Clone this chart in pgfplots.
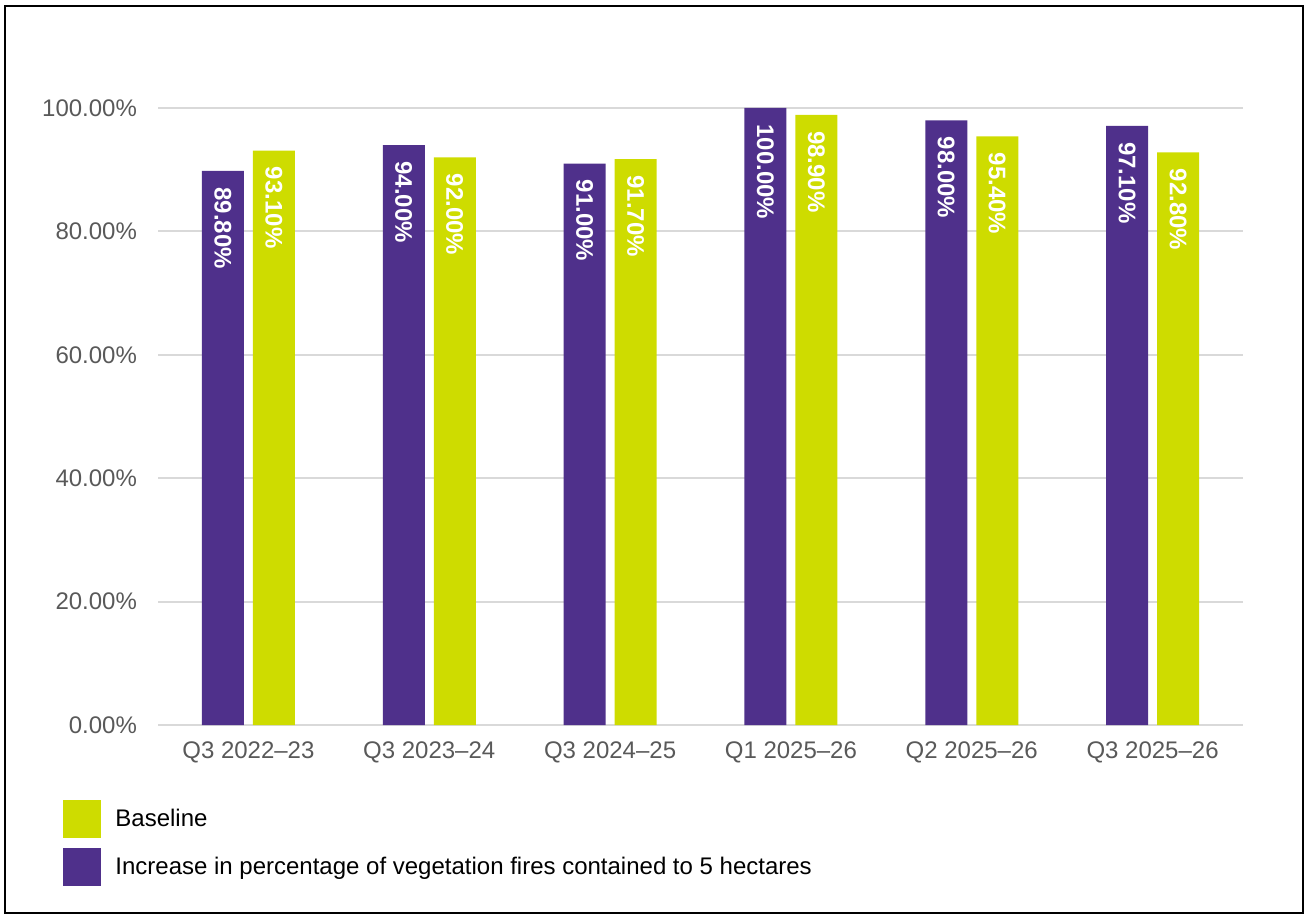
\documentclass[border=0pt]{standalone}
\usepackage{pgfplots}
\pgfplotsset{compat=1.18}
\usepackage{fontspec}
\setmainfont{Liberation Sans}
\definecolor{vpurple}{HTML}{4F308B}
\definecolor{vlime}{HTML}{CEDC00}
\definecolor{tickgrey}{HTML}{595959}
\definecolor{gridgrey}{HTML}{D9D9D9}
\begin{document}
\begin{tikzpicture}
\useasboundingbox (0,0) rectangle (653pt,458pt);
\pgfplotsset{sqlegend/.style={legend image code/.code={\fill[##1] (0pt,-9.5pt) rectangle (19pt,9.5pt);}}}
\begin{axis}[
  at={(79pt,95.5pt)}, anchor=south west,
  scale only axis, width=542.5pt, height=308.5pt,
  ybar, bar width=21pt, ybar=4.5pt,
  xmin=-0.5, xmax=5.5, ymin=0, ymax=100,
  xtick={0,1,2,3,4,5},
  xticklabels={Q3 2022--23, Q3 2023--24, Q3 2024--25, Q1 2025--26, Q2 2025--26, Q3 2025--26},
  ytick={0,20,40,60,80,100},
  yticklabel={\pgfmathprintnumber[fixed,fixed zerofill,precision=2]{\tick}\%},
  /pgf/number format/assume math mode=true,
  axis line style={draw=none},
  major tick length=0pt,
  ymajorgrids, grid style={gridgrey, line width=1pt},
  ticklabel style={font=\fontsize{12}{14}\selectfont, text=tickgrey},
  yticklabel style={xshift=-7pt},
  xticklabel style={yshift=-5pt},
  nodes near coords={\pgfmathprintnumber[fixed,fixed zerofill,precision=2]{\pgfplotspointmeta}\%},
  nodes near coords style={rotate=-90, anchor=west, font=\fontsize{12}{14}\selectfont\bfseries, text=white, inner xsep=8pt},
  reverse legend,
  legend style={at={(0,0)}, anchor=north west, xshift=-47.5pt, yshift=-37.5pt, draw=none, fill=none,
    font=\fontsize{12}{14}\selectfont, row sep=5pt, inner sep=0pt,
    /tikz/every odd column/.append style={column sep=5pt}},
  legend cell align=left,
]
\addplot[fill=vpurple, draw=none, sqlegend] coordinates {(0,89.8) (1,94.0) (2,91.0) (3,100.0) (4,98.0) (5,97.1)};
\addlegendentry{Increase in percentage of vegetation fires contained to 5 hectares}
\addplot[fill=vlime, draw=none, sqlegend] coordinates {(0,93.1) (1,92.0) (2,91.7) (3,98.9) (4,95.4) (5,92.8)};
\addlegendentry{Baseline}
\end{axis}
\draw[line width=1pt] (2.5pt,1.5pt) rectangle (651.5pt,455pt);
\end{tikzpicture}
\end{document}
